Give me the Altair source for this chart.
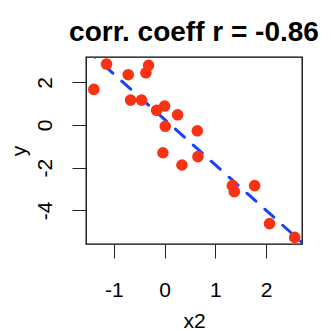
import altair as alt
import pandas as pd

x2 = [-1.395, -1.145, -0.717, -0.368, -0.316, -0.671, -0.454, -0.158, 0.0, 0.257,
      0.013, 0.645, -0.033, 0.342, 0.658, 1.336, 1.375, 1.776, 2.07, 2.566]
y = [1.67, 2.86, 2.36, 2.45, 2.80, 1.17, 1.17, 0.69, 0.89, 0.48,
     -0.06, -0.27, -1.30, -1.875, -1.48, -2.84, -3.125, -2.84, -4.625, -5.27]
x_ticks = [-1, 0, 1, 2]
y_ticks = [-4, -2, 0, 2]
title_text = "corr. coeff r = -0.86"

df = pd.DataFrame({"x2": x2, "y": y})

xdom = [-1.55, 2.71]
ydom = [-5.58, 3.19]
FONT = "Liberation Sans"
W, H = 216, 187

xs = alt.X("x2:Q", scale=alt.Scale(domain=xdom, nice=False, zero=False),
           axis=alt.Axis(values=x_ticks, title="x2", grid=False, domain=False,
                         tickSize=14, tickColor="#222", labelFontSize=21,
                         labelPadding=21, labelColor="black", labelFont=FONT,
                         labelExpr="'' + datum.value",
                         titleFont=FONT, titleFontSize=21, titleFontWeight="normal",
                         titleBaseline="alphabetic", titleAnchor="middle",
                         titleX=W / 2, titleY=83, titleColor="black"))
ys = alt.Y("y:Q", scale=alt.Scale(domain=ydom, nice=False, zero=False),
           axis=alt.Axis(values=y_ticks, title="y", grid=False, domain=False,
                         tickSize=14, tickColor="#222", labelFontSize=21,
                         labelAngle=270, labelAlign="center", labelBaseline="alphabetic",
                         labelPadding=21, labelColor="black", labelFont=FONT,
                         labelExpr="'' + datum.value",
                         titleFont=FONT, titleFontSize=21, titleFontWeight="normal",
                         titleAngle=270, titleBaseline="alphabetic", titleAlign="center",
                         titleX=-61, titleY=H / 2, titleColor="black"))

pts = alt.Chart(df).mark_circle(size=135, opacity=1, color="#FA3214").encode(x=xs, y=ys)

line = alt.Chart(df).transform_regression("x2", "y", extent=xdom).mark_line(
    color="#1A40FF", strokeWidth=3, strokeDash=[12, 12], strokeCap="round", clip=True
).encode(x=xs, y=ys)

chart = alt.layer(line, pts).properties(
    width=W, height=H,
    title=alt.TitleParams(title_text, fontSize=28, fontWeight="bold", font=FONT,
                          anchor="middle", offset=10, color="black"),
    autosize=alt.AutoSizeParams(type="none"),
    padding={"left": 78, "top": 49, "right": 21, "bottom": 100},
).configure_view(stroke="black", strokeWidth=1.3)

chart.save("out.html", embed_options={"renderer": "svg", "actions": False})
